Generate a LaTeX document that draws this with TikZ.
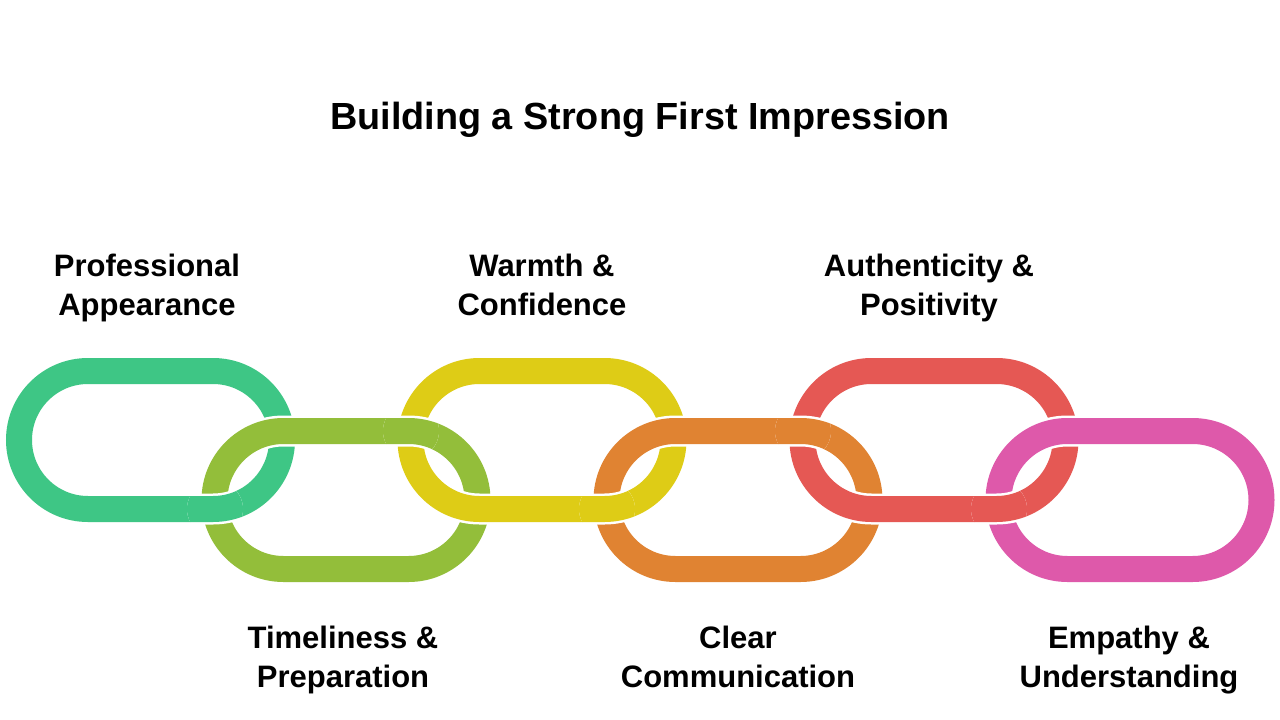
\documentclass[tikz,border=0pt]{standalone}
\usepackage{fontspec}
\setmainfont{Liberation Sans}
\definecolor{linkgreen}{RGB}{62,198,133}
\definecolor{linklime}{RGB}{147,190,58}
\definecolor{linkyellow}{RGB}{222,204,22}
\definecolor{linkorange}{RGB}{224,131,50}
\definecolor{linkred}{RGB}{229,88,84}
\definecolor{linkpink}{RGB}{222,89,170}

\begin{document}
\begin{tikzpicture}[x=1pt,y=-1pt,
    link/.style={line width=26pt, rounded corners=69pt, preaction={draw=white, line width=31pt}},
    label/.style={align=center, font=\fontsize{31}{39}\selectfont\bfseries,
        execute at begin node=\strut, execute at end node=\strut}]
            \useasboundingbox (0,0) rectangle (1280,720);
            \node[font=\fontsize{37.8}{45}\selectfont\bfseries, anchor=base] (title) at (640,129) {Building a Strong First Impression};
            \draw[link, draw=linkgreen] (19,371) rectangle (282,509);
            \draw[link, draw=linklime] (214.5,431) rectangle (477.5,569);
            \draw[link, draw=linkyellow] (410.5,371) rectangle (673.5,509);
            \draw[link, draw=linkorange] (606.5,431) rectangle (869.5,569);
            \draw[link, draw=linkred] (802.5,371) rectangle (1065.5,509);
            \draw[link, draw=linkpink] (998.5,431) rectangle (1261.5,569);
            \begin{scope}
                \clip (215,509) circle (28);
                \draw[link, draw=linkgreen] (19,371) rectangle (282,509);
            \end{scope}
            \begin{scope}
                \clip (411,431) circle (28);
                \draw[link, draw=linklime] (214.5,431) rectangle (477.5,569);
            \end{scope}
            \begin{scope}
                \clip (607,509) circle (28);
                \draw[link, draw=linkyellow] (410.5,371) rectangle (673.5,509);
            \end{scope}
            \begin{scope}
                \clip (803,431) circle (28);
                \draw[link, draw=linkorange] (606.5,431) rectangle (869.5,569);
            \end{scope}
            \begin{scope}
                \clip (999,509) circle (28);
                \draw[link, draw=linkred] (802.5,371) rectangle (1065.5,509);
            \end{scope}
            \node[label] (appearance) at (147,291) {Professional\\Appearance};
            \node[label] (warmth) at (542,291) {Warmth \&\\Confidence};
            \node[label] (authenticity) at (929,291) {Authenticity \&\\Positivity};
            \node[label] (timeliness) at (343,663) {Timeliness \&\\Preparation};
            \node[label] (communication) at (738,663) {Clear\\Communication};
            \node[label] (empathy) at (1129,663) {Empathy \&\\Understanding};
        \end{tikzpicture}
\end{document}
